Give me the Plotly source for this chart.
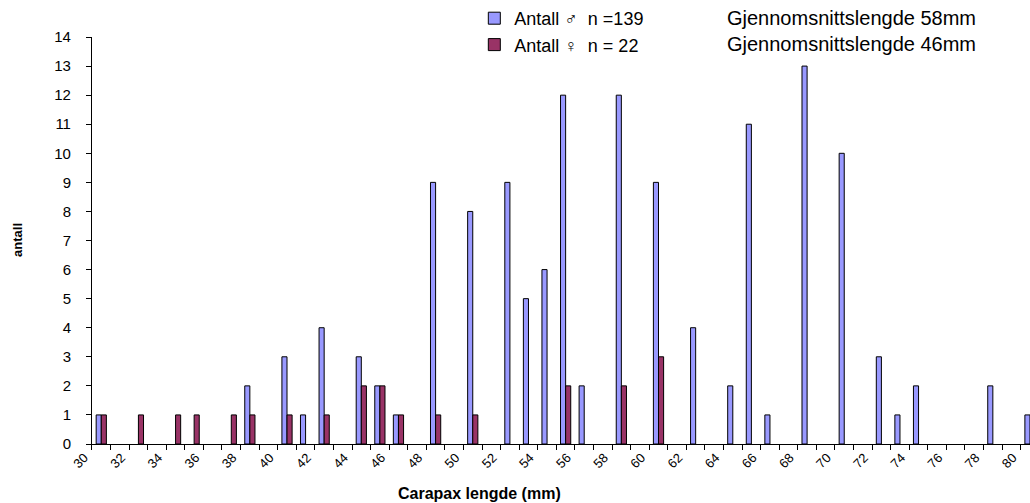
import plotly.graph_objects as go

# carapace length classes (mm)
lengths = [30, 31, 32, 33, 34, 35, 36, 37, 38, 39, 40, 41, 42, 43, 44, 45, 46,
           47, 48, 49, 50, 51, 52, 53, 54, 55, 56, 57, 58, 59, 60, 61, 62, 63,
           64, 65, 66, 67, 68, 69, 70, 71, 72, 73, 74, 75, 76, 77, 78, 79, 80]
males = [1, 0, 0, 0, 0, 0, 0, 0, 2, 0, 3, 1, 4, 0, 3, 2, 1,
         0, 9, 0, 8, 0, 9, 5, 6, 12, 2, 0, 12, 0, 9, 0, 4, 0,
         2, 11, 1, 0, 13, 0, 10, 0, 3, 1, 2, 0, 0, 0, 2, 0, 1]
females = [1, 0, 1, 0, 1, 1, 0, 1, 1, 0, 1, 0, 1, 0, 2, 2, 1,
           0, 1, 0, 1, 0, 0, 0, 0, 2, 0, 0, 2, 0, 3, 0, 0, 0,
           0, 0, 0, 0, 0, 0, 0, 0, 0, 0, 0, 0, 0, 0, 0, 0, 0]
tick_labels = [30, 32, 34, 36, 38, 40, 42, 44, 46, 48, 50, 52, 54, 56, 58, 60,
               62, 64, 66, 68, 70, 72, 74, 76, 78, 80]
legend_names = ["Antall \u2642\u00a0 n =139", "Antall \u2640\u00a0 n = 22"]
mean_texts = ["Gjennomsnittslengde 58mm", "Gjennomsnittslengde 46mm"]

FONT = "Liberation Sans, Arial, sans-serif"


def outline(vals):
    # no outline on empty classes, so nothing is drawn on the axis
    return [1 if v else 0 for v in vals]


fig = go.Figure()
fig.add_trace(go.Bar(x=lengths, y=males, name=legend_names[0], legendgroup="m",
                     marker=dict(color="#9999FF",
                                 line=dict(color="#000000", width=outline(males)))))
fig.add_trace(go.Bar(x=lengths, y=females, name=legend_names[1], legendgroup="f",
                     marker=dict(color="#993366",
                                 line=dict(color="#000000", width=outline(females)))))

for i, txt in enumerate(mean_texts):
    fig.add_annotation(
        x=0.7039, y=0.9642 - i * 0.0517, xref="paper", yref="paper",
        xanchor="left", yanchor="middle", text=txt, showarrow=False,
        font=dict(family=FONT, size=20, color="#000000"),
    )

fig.add_annotation(
    x=0.466, y=0.0179, xref="paper", yref="paper", xanchor="center",
    yanchor="middle", text="<b>Carapax lengde (mm)</b>", showarrow=False,
    font=dict(family=FONT, size=16, color="#000000"),
)
fig.add_annotation(
    x=0.0175, y=0.523, xref="paper", yref="paper", xanchor="center",
    yanchor="middle", text="<b>antall</b>", textangle=-90, showarrow=False,
    font=dict(family=FONT, size=13, color="#000000"),
)

fig.update_layout(
    width=1030,
    height=503,
    margin=dict(l=0, r=0, t=0, b=0),
    paper_bgcolor="white",
    plot_bgcolor="white",
    barmode="group",
    bargap=0.45,
    bargroupgap=0,
    font=dict(family=FONT, size=13, color="#000000"),
    showlegend=True,
    legend=dict(
        x=0.4605, y=1.0, xanchor="left", yanchor="top",
        traceorder="grouped", tracegroupgap=0,
        font=dict(family=FONT, size=18, color="#000000"),
        bgcolor="rgba(0,0,0,0)",
    ),
    xaxis=dict(
        domain=[0.0893, 1.0],
        range=[29.5, 80.0],
        automargin=False,
        tickmode="array",
        tickvals=tick_labels,
        ticktext=[str(v) for v in tick_labels],
        tickangle=-45,
        ticklabelshift=-17,
        ticks="",
        tickfont=dict(family=FONT, size=13),
        showline=True, linecolor="#000000", linewidth=1,
        showgrid=False, zeroline=False,
        minor=dict(tickmode="linear", tick0=29.5, dtick=1, ticks="outside",
                   ticklen=5, tickcolor="#000000", showgrid=False),
    ),
    yaxis=dict(
        domain=[0.1173, 0.9264],
        range=[0, 14],
        automargin=False,
        dtick=1,
        ticks="outside", ticklen=5, tickcolor="#000000",
        ticklabelstandoff=12,
        tickfont=dict(family=FONT, size=15),
        showline=True, linecolor="#000000", linewidth=1,
        showgrid=False, zeroline=False,
    ),
)

# the page body has a default 8px margin; drop it so the figure sits at 0,0
fig.write_html("out.html", config={"displayModeBar": False},
               post_script="document.body.style.margin='0';")
